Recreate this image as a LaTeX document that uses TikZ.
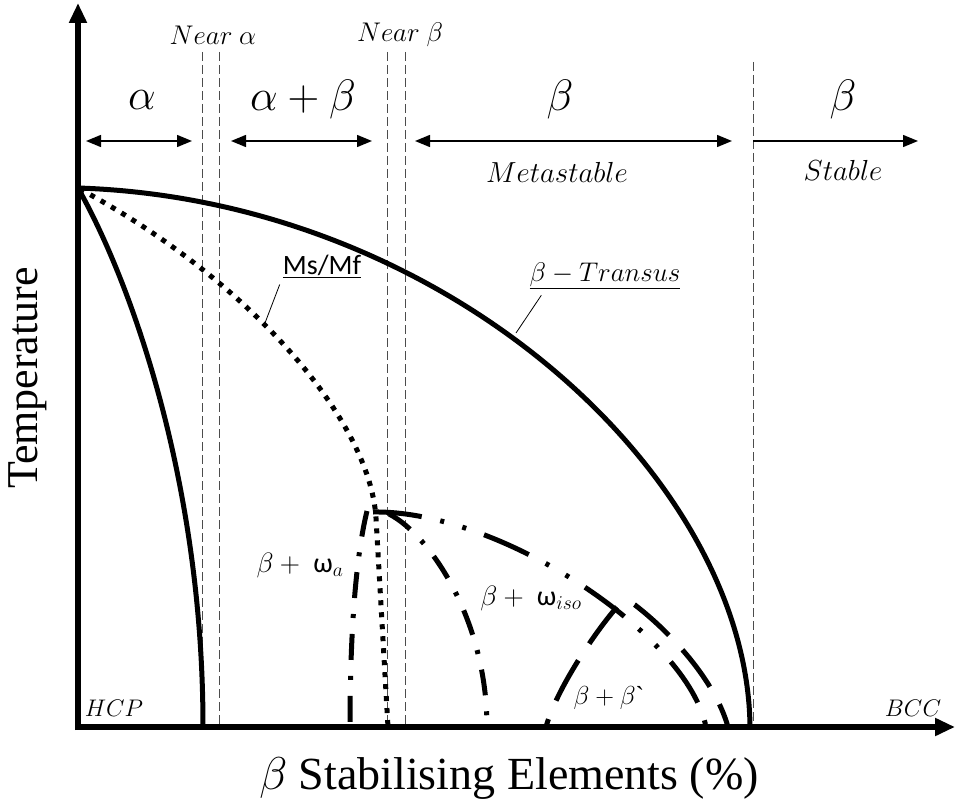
\RequirePackage{fix-cm}
\documentclass[tikz,border=0pt]{standalone}
\usepackage{fontspec}
\setmainfont{Liberation Serif}
\newfontfamily\carlito{Carlito}
\usetikzlibrary{arrows.meta}
\newcommand{\fsz}[1]{\fontsize{#1}{#1}\selectfont}
\begin{document}
\begin{tikzpicture}[x=1pt,y=-1pt,
  thickline/.style={line width=5pt},
  guide/.style={line width=1pt, black!70, dash pattern=on 9pt off 4pt},
  span/.style={line width=1.4pt, {Triangle[length=15pt,width=12pt]}-{Triangle[length=15pt,width=12pt]}},
  rspan/.style={line width=1.4pt, -{Triangle[length=15pt,width=12pt]}},
  axisline/.style={line width=6pt, -{Triangle[length=20pt,width=17pt]}},
  lbl/.style={inner sep=0pt, font=\fsz{27}},
  sublbl/.style={inner sep=0pt, font=\fsz{29}},
  big/.style={inner sep=0pt, font=\fsz{44}},
  region/.style={inner sep=0pt, font=\fsz{28}},
  corner/.style={inner sep=0pt, font=\fsz{24}},
  dashdot/.style={line width=5pt, dash pattern=on 26pt off 16pt on 4pt off 16pt},
  dashdotdot/.style={line width=5pt, dash pattern=on 49pt off 19pt on 4pt off 19pt on 4pt off 19pt},
  longdash/.style={line width=5pt, dash pattern=on 46pt off 20pt},
  dotline/.style={line width=5pt, dash pattern=on 5pt off 7pt},
  leader/.style={line width=0.8pt}
]
\useasboundingbox (0,0) rectangle (956,805);

% guide lines
\coordinate (g1t) at (202,52); \coordinate (g1b) at (202,727);
\coordinate (g2t) at (219,52); \coordinate (g2b) at (219,727);
\coordinate (g3t) at (387,52); \coordinate (g3b) at (387,727);
\coordinate (g4t) at (405,52); \coordinate (g4b) at (405,727);
\coordinate (g5t) at (753,62); \coordinate (g5b) at (753,727);
\draw[guide] (g1t) -- (g1b);
\draw[guide] (g2t) -- (g2b);
\draw[guide] (g3t) -- (g3b);
\draw[guide] (g4t) -- (g4b);
\draw[guide] (g5t) -- (g5b);

% axes
\coordinate (origin) at (78,730);
\coordinate (ytip) at (78,3);
\coordinate (xorig) at (75,727);
\coordinate (xtip) at (955,727);
\draw[axisline] (origin) -- (ytip);
\draw[axisline] (xorig) -- (xtip);

% span arrows
\coordinate (a1) at (86,141); \coordinate (a2) at (192,141);
\coordinate (b1) at (231,141); \coordinate (b2) at (372,141);
\coordinate (c1) at (415,141); \coordinate (c2) at (732,141);
\coordinate (d1) at (753,141); \coordinate (d2) at (918,141);
\draw[span] (a1) -- (a2);
\draw[span] (b1) -- (b2);
\draw[span] (c1) -- (c2);
\draw[rspan] (d1) -- (d2);

% top labels
\node[lbl] (nearA) at (213,35) {$Near\ \alpha$};
\node[lbl] (nearB) at (400,35) {$Near\ \beta$};
\node[big] (alpha) at (142,100) {$\alpha$};
\node[big] (alphabeta) at (303,100) {$\alpha+\beta$};
\node[big] (betaM) at (560,100) {$\beta$};
\node[big] (betaS) at (843,100) {$\beta$};
\node[sublbl] (meta) at (557,172) {$Metastable$};
\node[sublbl] (stab) at (843,170) {$Stable$};

% key points
\coordinate (top) at (78,188);
\coordinate (node1) at (376,518);

% solid left curve
\draw[thickline] (top) .. controls (130,280) and (203,480) .. (203,727);

% beta transus
\draw[thickline] (top) .. controls (450,200) and (748,480) .. (750,727);

% Ms/Mf dotted
\draw[dotline, dash phase=-14pt] (top) .. controls (250,280) and (370,420) .. (node1) -- (388,727);

% omega_a dash-dot
\draw[dashdot] (367,511) .. controls (355,560) and (350,640) .. (350,727);

% omega_iso left dash-dot
\draw[dashdot] (389,514) .. controls (430,535) and (487,620) .. (487,727);

% inner dome dash-dot-dot
\draw[dashdotdot] (373,512) .. controls (500,510) and (688,635) .. (706,727);

% beta + beta` dashed dome
\coordinate (tj) at (617,607);
\draw[longdash] (tj) .. controls (595,632) and (556,690) .. (546,727);
\draw[longdash, dash phase=46pt] (tj) .. controls (624,599) and (630,601) .. (635,605)
   .. controls (670,632) and (715,680) .. (728,727);

% region labels
\node[region] (rwa) at (300,565) {$\beta+{}$\ {\carlito ω}$_{a}$};
\node[region] (rwiso) at (531,598) {$\beta+{}$\ {\carlito ω}$_{iso}$};
\node[inner sep=0pt, font=\fsz{26}] (rbb) at (609,698) {$\beta+\beta$\textasciigrave};
\node[corner] (hcp) at (114,708) {$HCP$};
\node[corner] (bcc) at (913,708) {$BCC$};

% curve labels
\node[inner sep=0pt, font=\fsz{28}\carlito] (msmf) at (322,266) {\underline{Ms/Mf}};
\coordinate (msend) at (265,323);
\draw[leader] (msmf.south west) ++(-3,7) -- (msend);
\node[inner sep=0pt, font=\fsz{27}] (transus) at (605,276) {\underline{$\beta-Transus$}};
\coordinate (trend) at (516,333);
\draw[leader] (transus.south west) ++(12,6) -- (trend);

% axis titles
\node[inner sep=0pt, font=\fsz{44}, rotate=90] (ylab) at (28,378) {Temperature};
\node[inner sep=0pt, font=\fsz{46}] (xlab) at (509,778) {$\beta$ Stabilising Elements (\%)};
\end{tikzpicture}
\end{document}
